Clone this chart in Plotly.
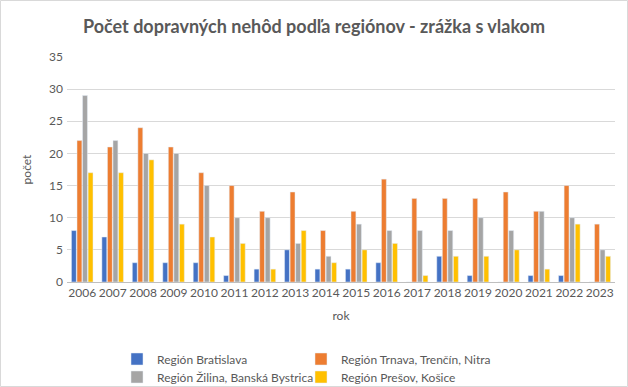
import plotly.graph_objects as go

years = [str(y) for y in range(2006, 2024)]
bratislava = [8, 7, 3, 3, 3, 1, 2, 5, 2, 2, 3, 0, 4, 1, 0, 1, 1, 0]
trnava = [22, 21, 24, 21, 17, 15, 11, 14, 8, 11, 16, 13, 13, 13, 14, 11, 15, 9]
zilina = [29, 22, 20, 20, 15, 10, 10, 6, 4, 9, 8, 8, 8, 10, 8, 11, 10, 5]
presov = [17, 17, 19, 9, 7, 6, 2, 8, 3, 5, 6, 1, 4, 4, 5, 2, 9, 4]

names = ["Región Bratislava", "Región Trnava, Trenčín, Nitra",
         "Región Žilina, Banská Bystrica", "Región Prešov, Košice"]
colors = ["#4472C4", "#ED7D31", "#A5A5A5", "#FFC000"]
series = [bratislava, trnava, zilina, presov]

W, H = 628, 387
L, R, T, B = 67, 13, 57, 105
pw = W - L - R
ph = H - T - B

# legend placement (pixel positions of each entry: left, center y)
leg_pos = [(117, 359), (301, 359), (117, 377), (301, 377)]
leg_ids = ["legend", "legend2", "legend3", "legend4"]

fig = go.Figure()
for n, c, s, lg in zip(names, colors, series, leg_ids):
    fig.add_trace(go.Bar(x=years, y=s, name=n, marker_color=c, legend=lg,
                         showlegend=True))

font = "Lato, 'Open Sans', sans-serif"
legends = {}
for lg, (px, py) in zip(leg_ids, leg_pos):
    legends[lg] = dict(orientation="h", x=(px - L) / pw, xanchor="left",
                       y=-(py - T - ph) / ph, yanchor="middle",
                       font=dict(size=12, color="#595959"), itemwidth=30,
                       bgcolor="rgba(0,0,0,0)")

fig.update_layout(
    width=W, height=H, showlegend=True,
    margin=dict(l=L, r=R, t=T, b=B, autoexpand=False),
    paper_bgcolor="white", plot_bgcolor="white",
    font=dict(family=font, color="#595959", size=12),
    title=dict(text="<b>Počet dopravných nehôd podľa regiónov - zrážka s vlakom</b>",
               x=0.5, xanchor="center", y=1 - 27 / H, yanchor="middle",
               font=dict(size=18, color="#595959", family=font)),
    barmode="group", bargap=0.27, bargroupgap=0.12,
    xaxis=dict(title=dict(text="rok", standoff=12, font=dict(size=12)),
               showline=True, linecolor="#BFBFBF", ticks="", tickfont=dict(size=12)),
    yaxis=dict(title=dict(text="počet", standoff=14, font=dict(size=12)),
               range=[0, 35], dtick=5, gridcolor="#D9D9D9", zeroline=False,
               tickfont=dict(size=12), ticksuffix=" "),
    shapes=[dict(type="rect", xref="paper", yref="paper",
                 x0=(0.5 - L) / pw, x1=(W - 0.5 - L) / pw,
                 y0=-(H - 0.5 - T - ph) / ph, y1=(T - 0.5) / ph + 1,
                 line=dict(color="#D9D9D9", width=1), layer="below")],
    **legends,
)
fig.write_html("out.html", config={"displayModeBar": False},
               post_script="document.body.style.margin='0';document.body.style.padding='0';")
